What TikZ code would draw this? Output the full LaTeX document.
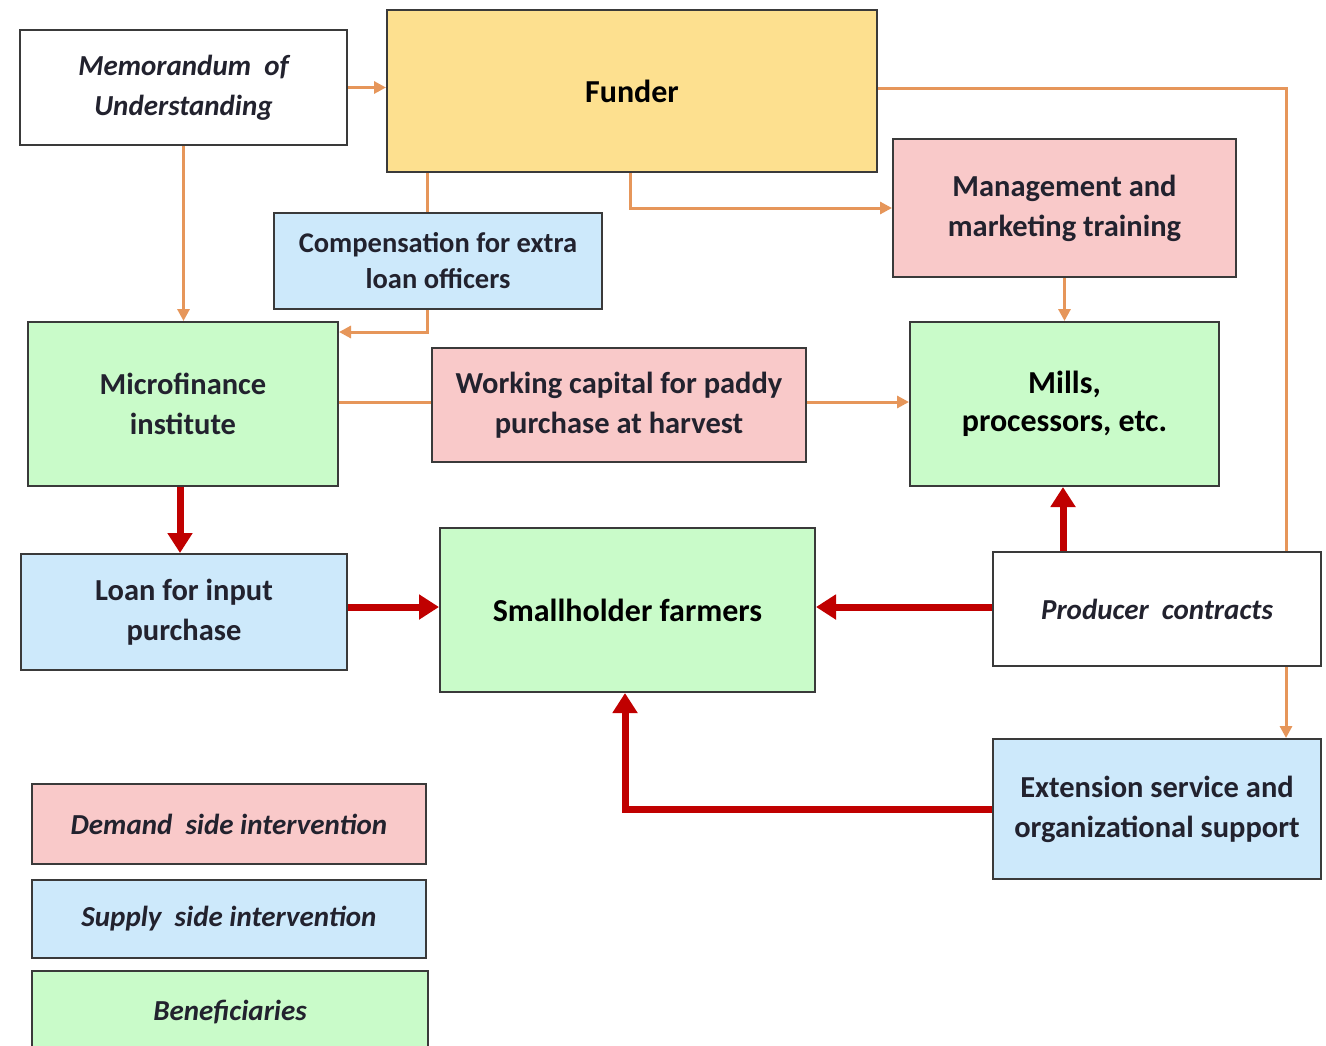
\documentclass[tikz,border=0pt]{standalone}
\usepackage{fontspec}
\setmainfont{Carlito}
\usetikzlibrary{arrows.meta,calc}
\definecolor{fyellow}{HTML}{FDE08F}
\definecolor{fpink}{HTML}{F9C9C9}
\definecolor{fblue}{HTML}{CDE9FB}
\definecolor{fgreen}{HTML}{C9FBC9}
\definecolor{lorange}{HTML}{E6965A}
\definecolor{lred}{HTML}{C00000}
\definecolor{bord}{HTML}{3A3A3A}
\definecolor{txt}{HTML}{22222E}
\tikzset{
  box/.style={draw=bord, line width=2pt, align=center, inner sep=0pt, text=txt,
    font=\fontsize{30.5}{40}\selectfont\bfseries},
  smalltxt/.style={font=\fontsize{28.5}{36}\selectfont\bfseries},
  bigtxt/.style={font=\fontsize{32}{38}\selectfont\bfseries, text=black},
  itx/.style={font=\fontsize{29}{40}\selectfont\bfseries\itshape},
  oline/.style={draw=lorange, line width=3pt},
  oarr/.style={oline, -{Triangle[length=12pt,width=12pt]}},
  rarr/.style={draw=lred, line width=7pt, -{Triangle[length=20pt,width=24pt]}},
}
\begin{document}
\begin{tikzpicture}[x=1pt,y=-1pt]
\useasboundingbox (0,0) rectangle (1326,1045);
\fill[white] (0,0) rectangle (1326,1045);
% nodes
\node[box, itx, fill=white, minimum width=327pt, minimum height=115pt] (memo) at (183.5,87.5) {Memorandum\ \ of\\Understanding};
\node[box, bigtxt, fill=fyellow, minimum width=490pt, minimum height=162pt] (funder) at (632,91) {Funder};
\node[box, smalltxt, fill=fblue, minimum width=328pt, minimum height=96pt] (comp) at (438,261) {Compensation for extra\\loan officers};
\node[box, fill=fpink, minimum width=343pt, minimum height=138pt] (mgmt) at (1064.5,208) {Management and\\marketing training};
\node[box, fill=fgreen, minimum width=310pt, minimum height=164pt] (micro) at (183,404) {Microfinance\\institute};
\node[box, fill=fpink, minimum width=374pt, minimum height=114pt] (work) at (619,405) {Working capital for paddy\\purchase at harvest};
\node[box, bigtxt, fill=fgreen, minimum width=309pt, minimum height=164pt] (mills) at (1064.5,404) {Mills,\\processors, etc.};
\node[box, fill=fblue, minimum width=326pt, minimum height=116pt] (loan) at (184,612) {Loan for input\\purchase};
\node[box, bigtxt, fill=fgreen, minimum width=375pt, minimum height=164pt] (small) at (627.5,610) {Smallholder farmers};
\node[box, itx, fill=white, minimum width=328pt, minimum height=114pt] (prod) at (1157,609) {Producer\ \ contracts};
\node[box, fill=fblue, minimum width=328pt, minimum height=140pt] (ext) at (1157,809) {Extension service and\\organizational support};
\node[box, itx, fill=fpink, minimum width=394pt, minimum height=80pt] (dem) at (229,824) {Demand\ \ side intervention};
\node[box, itx, fill=fblue, minimum width=394pt, minimum height=78pt] (sup) at (229,919) {Supply\ \ side intervention};
\node[box, itx, fill=fgreen, minimum width=396pt, minimum height=82pt] (ben) at (230,1012) {Beneficiaries};
% helper coordinates
\coordinate (xa) at (427,0);
\coordinate (xf) at (630,0);
\coordinate (xd) at (1286,0);
\coordinate (xc) at (625,0);
\coordinate (mic1) at ($(micro.north east)+(0,11)$);
% orange connectors
\draw[oarr] (memo.east) -- (memo.east -| funder.west);
\draw[oarr] (memo.south) -- (memo.south |- micro.north);
\draw[oline] (xa |- funder.south) -- (xa |- comp.north);
\draw[oarr] (xa |- comp.south) |- (mic1);
\draw[oarr] (xf |- funder.south) |- (mgmt.west);
\draw[oline] ([yshift=3pt]funder.east) -| (xd |- prod.north);
\draw[oarr] (xd |- prod.south) -- (xd |- ext.north);
\draw[oarr] (mgmt.south) -- (mills.north);
\draw[oline] ([yshift=2pt]micro.east) -- ([yshift=2pt]micro.east -| work.west);
\draw[oarr] ([yshift=3pt]work.east) -- ([yshift=3pt]work.east -| mills.west);
% red connectors
\draw[rarr] ([xshift=-3pt]micro.south) -- ([xshift=-3pt]micro.south |- loan.north);
\draw[rarr] ([yshift=5pt]loan.east) -- ([yshift=5pt]loan.east -| small.west);
\draw[rarr] ([yshift=2pt]prod.west) -- ([yshift=2pt]prod.west -| small.east);
\draw[rarr] ([xshift=-1.5pt]prod.north -| mills.south) -- ([xshift=-1.5pt]mills.south);
\draw[rarr] (ext.west) -| (xc |- small.south);
\end{tikzpicture}
\end{document}
